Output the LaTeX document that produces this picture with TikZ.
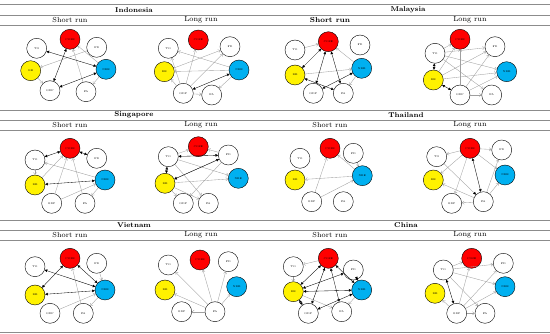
\documentclass[tikz,border=0pt]{standalone}
\usepackage{tikz}
\usetikzlibrary{arrows.meta}

\definecolor{nreblue}{RGB}{0,176,240}
\definecolor{rulegray}{RGB}{140,140,140}

\tikzset{
  var/.style={circle, draw=black, line width=0.4pt, minimum size=20pt, inner sep=0pt,
              font=\fontsize{2.6}{3}\selectfont},
  plainvar/.style={var, fill=white},
  co2var/.style={var, fill=red},
  revar/.style={var, fill=yellow},
  nrevar/.style={var, fill=nreblue},
  oneway/.style={draw=gray!75, line width=0.35pt, -{Straight Barb[length=2pt,width=3.2pt]}},
  onedark/.style={draw=gray!75, line width=0.35pt, -{Triangle[length=2.6pt,width=2.6pt,fill=black,color=black]}},
  twoway/.style={draw=black, line width=0.35pt, {Triangle[length=2.6pt,width=2.6pt]}-{Triangle[length=2.6pt,width=2.6pt]}},
  country/.style={font=\fontsize{7}{8}\selectfont\bfseries},
  runlabel/.style={font=\fontsize{7.3}{8}\selectfont},
  tabrule/.style={draw=rulegray, line width=0.6pt}
}

\begin{document}
\begin{tikzpicture}[x=1pt,y=-1pt]
  \useasboundingbox (0,0) rectangle (550,334);

  % Table rules
  \draw[tabrule, line width=1.2pt] (0,4.5) -- (550,4.5);
  \foreach \y in {15,25,110,120,130,220,230,240,332}
    \draw[tabrule] (0,\y) -- (550,\y);

  % Headers
  \node[country] (indo) at (134,10) {Indonesia};
  \node[country] (malay) at (408,10) {Malaysia};
  \node[country] (sing) at (134,115) {Singapore};
  \node[country] (thai) at (406,115) {Thailand};
  \node[country] (viet) at (134,225) {Vietnam};
  \node[country] (chin) at (406,225) {China};
  \foreach \r/\y in {1/20,2/125,3/235} {
    \node[runlabel] (sr\r) at (70,\y) {Short run};
    \node[runlabel] (lr\r) at (201,\y) {Long run};
    \node[runlabel] (lrb\r) at (470,\y) {Long run};
  }
  \node[runlabel] (srb1) at (330,20) {\bfseries Short run};
  \node[runlabel] (srb2) at (330,125) {Short run};
  \node[runlabel] (srb3) at (330,235) {Short run};

  % Indonesia, short run
  \foreach \n/\s/\x/\y in {to/plainvar/36.7/48.3, co2e/co2var/70/39.3, fd/plainvar/96.7/47.3,
      re/revar/30.7/70.7, nre/nrevar/106/69.3, gdp/plainvar/50/90.7, fa/plainvar/86/91.7}
    \node[\s] (is-\n) at (\x,\y) {\MakeUppercase{\n}};
  \foreach \a/\b in {fd/re, fa/co2e, nre/co2e, nre/fa, re/gdp}
    \draw[oneway] (is-\a) -- (is-\b);
  \foreach \a/\b in {to/nre, co2e/gdp, gdp/nre}
    \draw[twoway] (is-\a) -- (is-\b);

  % Indonesia, long run
  \foreach \n/\s/\x/\y in {to/plainvar/168.3/48.3, co2e/co2var/198.3/40, fd/plainvar/230/46.7,
      re/revar/164.3/71.7, nre/nrevar/239/70, gdp/plainvar/183.3/93.3, fa/plainvar/211.7/95}
    \node[\s] (il-\n) at (\x,\y) {\MakeUppercase{\n}};
  \foreach \a/\b in {nre/to, nre/re, nre/fa, gdp/co2e, gdp/fd, gdp/to, gdp/re, gdp/fa, re/fd}
    \draw[oneway] (il-\a) -- (il-\b);
  \draw[twoway] (il-gdp) -- (il-nre);

  % Malaysia, short run
  \foreach \n/\s/\x/\y in {to/plainvar/295/50, co2e/co2var/328.3/41.7, fd/plainvar/360/45,
      re/revar/295/75, nre/nrevar/361.7/68.3, gdp/plainvar/313.3/93.3, fa/plainvar/343.3/93.3}
    \node[\s] (ms-\n) at (\x,\y) {\MakeUppercase{\n}};
  \foreach \a/\b in {to/co2e, nre/co2e, re/nre, nre/fa}
    \draw[oneway] (ms-\a) -- (ms-\b);
  \foreach \a/\b in {co2e/re, co2e/gdp, co2e/fa, re/fa, gdp/nre}
    \draw[twoway] (ms-\a) -- (ms-\b);

  % Malaysia, long run
  \foreach \n/\s/\x/\y in {to/plainvar/435/53.3, co2e/co2var/460/39.3, fd/plainvar/495/46.7,
      re/revar/433.3/80, nre/nrevar/506.7/71.7, gdp/plainvar/460/95, fa/plainvar/491.7/95}
    \node[\s] (ml-\n) at (\x,\y) {\MakeUppercase{\n}};
  \foreach \a/\b in {to/co2e, to/fd, to/nre, to/fa, re/co2e, re/fd, re/nre,
      gdp/fa, gdp/fd, gdp/nre, gdp/co2e}
    \draw[oneway] (ml-\a) -- (ml-\b);
  \foreach \a/\b in {to/re, re/gdp}
    \draw[twoway] (ml-\a) -- (ml-\b);

  % Singapore, short run
  \foreach \n/\s/\x/\y in {to/plainvar/35/160, co2e/co2var/70/148.3, fd/plainvar/96.7/158.3,
      re/revar/35/185, nre/nrevar/105/180, gdp/plainvar/51.7/203.3, fa/plainvar/85/203.3}
    \node[\s] (ss-\n) at (\x,\y) {\MakeUppercase{\n}};
  \foreach \a/\b in {to/re, nre/to, gdp/co2e, fa/co2e, re/co2e, gdp/nre, nre/fa}
    \draw[oneway] (ss-\a) -- (ss-\b);
  \foreach \a/\b in {co2e/to, co2e/fd, re/nre}
    \draw[twoway] (ss-\a) -- (ss-\b);

  % Singapore, long run
  \foreach \n/\s/\x/\y in {to/plainvar/168.3/156.7, co2e/co2var/198.3/146.7, fd/plainvar/228.3/155,
      re/revar/165/183.3, nre/nrevar/238.3/178.3, gdp/plainvar/183.3/203.3, fa/plainvar/208.3/203.3}
    \node[\s] (sl-\n) at (\x,\y) {\MakeUppercase{\n}};
  \foreach \a/\b in {to/co2e, fd/co2e, re/nre, re/gdp, re/fa, to/fa, fd/re, to/nre, fd/gdp}
    \draw[oneway] (sl-\a) -- (sl-\b);
  \foreach \a/\b in {to/fd, to/re, re/fd}
    \draw[twoway] (sl-\a) -- (sl-\b);

  % Thailand, short run
  \foreach \n/\s/\x/\y in {to/plainvar/300/158.3, co2e/co2var/330/148.3, fd/plainvar/353.3/153.3,
      re/revar/295/180, nre/nrevar/362.3/175.7, gdp/plainvar/311.7/201.7, fa/plainvar/343.3/201.7}
    \node[\s] (ts-\n) at (\x,\y) {\MakeUppercase{\n}};
  \foreach \a/\b in {gdp/co2e, nre/re, gdp/nre, nre/co2e, fd/nre}
    \draw[oneway] (ts-\a) -- (ts-\b);

  % Thailand, long run
  \foreach \n/\s/\x/\y in {to/plainvar/436.7/156.7, co2e/co2var/470/148.3, fd/plainvar/501.7/150,
      re/revar/433.3/180, nre/nrevar/505/175, gdp/plainvar/451.7/203.3, fa/plainvar/483.3/201.7}
    \node[\s] (tl-\n) at (\x,\y) {\MakeUppercase{\n}};
  \foreach \a/\b in {co2e/to, co2e/fd, co2e/nre, co2e/re, co2e/gdp, fa/re, fa/gdp, fa/nre, fa/fd}
    \draw[oneway] (tl-\a) -- (tl-\b);
  \draw[onedark] (tl-to) -- (tl-fa);
  \draw[twoway] (tl-co2e) -- (tl-fa);

  % Vietnam, short run
  \foreach \n/\s/\x/\y in {to/plainvar/35/266.7, co2e/co2var/70/258.3, fd/plainvar/96.7/263.3,
      re/revar/35/295, nre/nrevar/105/290, gdp/plainvar/50/313.3, fa/plainvar/83.3/313.3}
    \node[\s] (vs-\n) at (\x,\y) {\MakeUppercase{\n}};
  \foreach \a/\b in {fa/co2e, gdp/nre, nre/fa, fd/nre}
    \draw[oneway] (vs-\a) -- (vs-\b);
  \foreach \a/\b in {co2e/re, co2e/nre, to/nre, re/nre}
    \draw[twoway] (vs-\a) -- (vs-\b);

  % Vietnam, long run
  \foreach \n/\s/\x/\y in {to/plainvar/168.3/265, co2e/co2var/200/260, fd/plainvar/228.3/261.7,
      re/revar/165/290, nre/nrevar/236.7/286.7, gdp/plainvar/181.7/311.7, fa/plainvar/215/311.7}
    \node[\s] (vl-\n) at (\x,\y) {\MakeUppercase{\n}};
  \foreach \b in {to, co2e, fd, nre, re, gdp}
    \draw[oneway] (vl-fa) -- (vl-\b);

  % China, short run
  \foreach \n/\s/\x/\y in {to/plainvar/293.3/266.7, co2e/co2var/328.3/258.3, fd/plainvar/353.3/270,
      re/revar/293.3/291.7, nre/nrevar/361.7/290, gdp/plainvar/308.3/313.3, fa/plainvar/341.7/311.7}
    \node[\s] (cs-\n) at (\x,\y) {\MakeUppercase{\n}};
  \foreach \a/\b in {co2e/to, to/re, nre/fa, re/fa}
    \draw[oneway] (cs-\a) -- (cs-\b);
  \foreach \a/\b in {co2e/re, co2e/gdp, co2e/fa, co2e/nre, re/nre, re/gdp, re/fd, gdp/nre, fd/nre}
    \draw[twoway] (cs-\a) -- (cs-\b);

  % China, long run
  \foreach \n/\s/\x/\y in {to/plainvar/443.3/270, co2e/co2var/471.7/258.3, fd/plainvar/503.3/263.3,
      re/revar/435/293.3, nre/nrevar/505/286.7, gdp/plainvar/456.7/313.3, fa/plainvar/485/313.3}
    \node[\s] (cl-\n) at (\x,\y) {\MakeUppercase{\n}};
  \foreach \a/\b in {to/co2e, to/fd, to/nre, to/fa, gdp/re, gdp/co2e, gdp/fd, gdp/nre, gdp/fa}
    \draw[oneway] (cl-\a) -- (cl-\b);
  \draw[twoway] (cl-to) -- (cl-gdp);
\end{tikzpicture}
\end{document}
